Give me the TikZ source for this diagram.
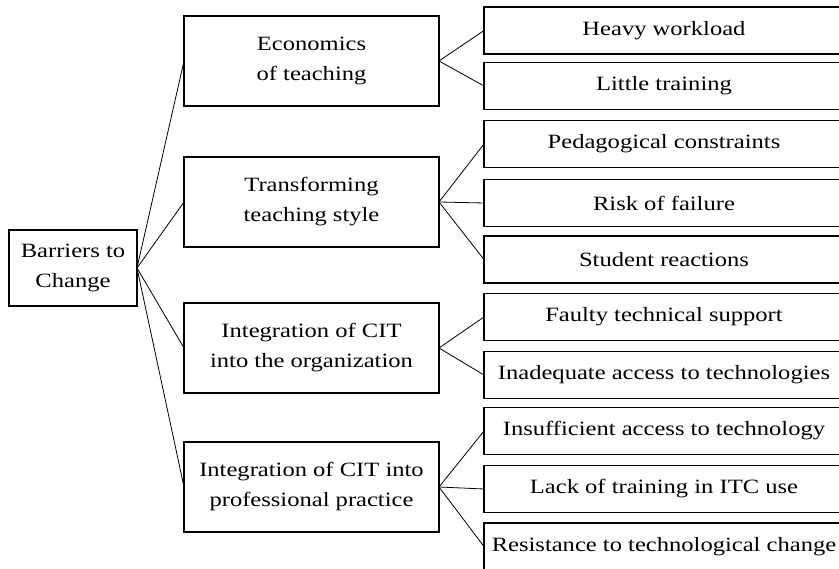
\documentclass[tikz,border=0pt]{standalone}
\usepackage{fontspec}
\setmainfont[FakeStretch=1.21]{Liberation Serif}
\begin{document}
\begin{tikzpicture}[x=1pt,y=-1pt,
  box/.style={draw, line width=1.1pt, inner sep=0pt, outer sep=0pt,
    align=center, font=\fontsize{20.3}{30}\selectfont},
  rootbox/.style={box, minimum width=128pt, minimum height=76pt},
  midbox/.style={box, minimum width=255pt, minimum height=90pt},
  leafbox/.style={box, minimum width=360pt, minimum height=47pt},
  link/.style={line width=0.8pt}]
\useasboundingbox (0,0) rectangle (839,569);
\clip (0,0) rectangle (839,569);

% root
\node[rootbox] (root) at (73,268) {Barriers to\\Change};

% second level
\node[midbox] (eco)  at (311.5,61)  {Economics\\of teaching};
\node[midbox] (tra)  at (311.5,202) {Transforming\\teaching style};
\node[midbox] (org)  at (311.5,348) {Integration of CIT\\into the organization};
\node[midbox] (pro)  at (311.5,487) {Integration of CIT into\\professional practice};

% leaves
\node[leafbox] (heavy) at (664,30.5)  {Heavy workload};
\node[leafbox] (little) at (664,86)   {Little training};
\node[leafbox] (peda)  at (664,144)   {Pedagogical constraints};
\node[leafbox] (risk)  at (664,203)   {Risk of failure};
\node[leafbox] (stud)  at (664,259.5) {Student reactions};
\node[leafbox] (faulty) at (664,317)  {Faulty technical support};
\node[leafbox] (inad)  at (664,375)   {Inadequate access to technologies};
\node[leafbox] (insuf) at (664,431)   {Insufficient access to technology};
\node[leafbox] (lack)  at (664,489)   {Lack of training in ITC use};
\node[leafbox] (resist) at (664,546.5) {Resistance to technological change};

% connectors
\foreach \m in {eco,tra,org,pro}
  \draw[link] (root.east) -- (\m.west);
\foreach \l in {heavy,little}
  \draw[link] (eco.east) -- (\l.west);
\foreach \l in {peda,risk,stud}
  \draw[link] (tra.east) -- (\l.west);
\foreach \l in {faulty,inad}
  \draw[link] (org.east) -- (\l.west);
\foreach \l in {insuf,lack,resist}
  \draw[link] (pro.east) -- (\l.west);
\end{tikzpicture}
\end{document}
